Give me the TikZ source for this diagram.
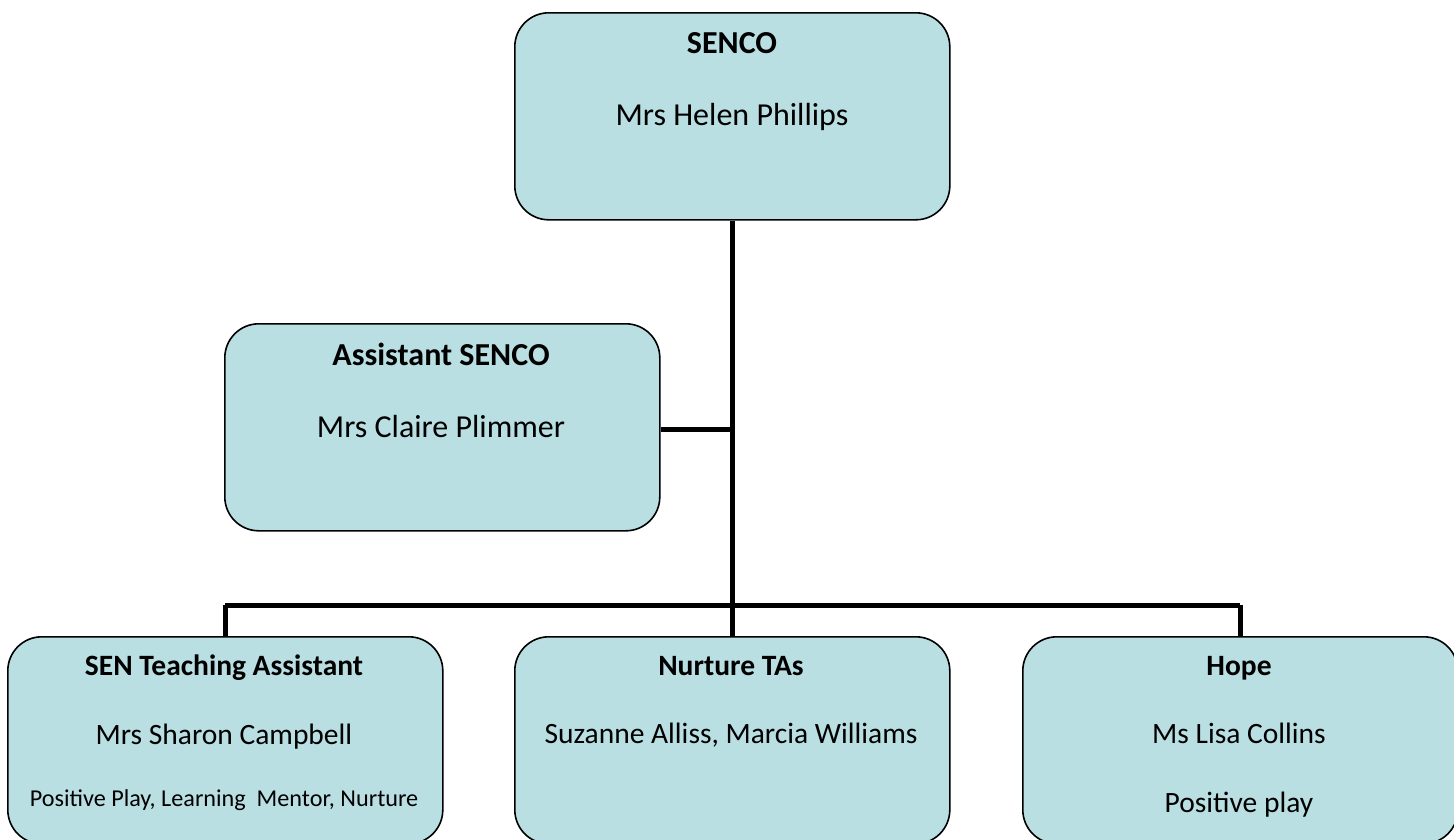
\documentclass[tikz,border=0pt]{standalone}
\usepackage{fontspec}
\setmainfont{Carlito}
\definecolor{boxfill}{HTML}{B9DFE3}
\begin{document}
\begin{tikzpicture}[x=1pt,y=-1pt,
  orgbox/.style={draw=black, line width=1.6pt, fill=boxfill, rounded corners=34pt,
    rectangle, minimum width=435pt, minimum height=207pt, anchor=north west, inner sep=0pt},
  link/.style={draw=black, line width=5pt},
  ttl/.style={font=\bfseries\fontsize{32}{38}\selectfont, inner sep=0pt, anchor=base},
  nm/.style={font=\fontsize{32}{38}\selectfont, inner sep=0pt, anchor=base},
  sttl/.style={font=\bfseries\fontsize{29.5}{35}\selectfont, inner sep=0pt, anchor=base},
  snm/.style={font=\fontsize{29.5}{35}\selectfont, inner sep=0pt, anchor=base},
  sml/.style={font=\fontsize{24.2}{29}\selectfont, inner sep=0pt, anchor=base}]
\useasboundingbox (0,0) rectangle (1454,839);
% boxes
\node[orgbox] (senco) at (514,12) {};
\node[orgbox] (asst) at (224,323) {};
\node[orgbox] (ta) at (7,636) {};
\node[orgbox] (nur) at (514,636) {};
\node[orgbox] (hope) at (1022,636) {};
% connectors
\coordinate (bus) at (732,605);
\coordinate (asj) at (732,429);
\coordinate (busl) at (225,605);
\coordinate (busr) at (1240,605);
\draw[link] (senco.south -| bus) -- (bus);
\draw[link] (asst.east |- asj) -- (asj);
\draw[link] (busl) -- (busr);
\draw[link] (busl) -- (busl |- ta.north);
\draw[link] (bus) -- (bus |- nur.north);
\draw[link] (busr) -- (busr |- hope.north);
% texts
\node[ttl] (t1) at (732,53) {SENCO};
\node[nm] (n1) at (732,125) {Mrs Helen Phillips};
\node[ttl] (t2) at (441,365) {Assistant SENCO};
\node[nm] (n2) at (441,437) {Mrs Claire Plimmer};
\node[sttl] (t3) at (224,675) {SEN Teaching Assistant};
\node[snm] (n3) at (224,744) {Mrs Sharon Campbell};
\node[sml] (p3) at (224,806) {Positive Play, Learning\ \ Mentor, Nurture};
\node[sttl] (t4) at (731,675) {Nurture TAs};
\node[snm] (n4) at (731,743) {Suzanne Alliss, Marcia Williams};
\node[sttl] (t5) at (1239,675) {Hope};
\node[snm] (n5) at (1239,743) {Ms Lisa Collins};
\node[snm] (p5) at (1239,812) {Positive play};
\end{tikzpicture}
\end{document}
